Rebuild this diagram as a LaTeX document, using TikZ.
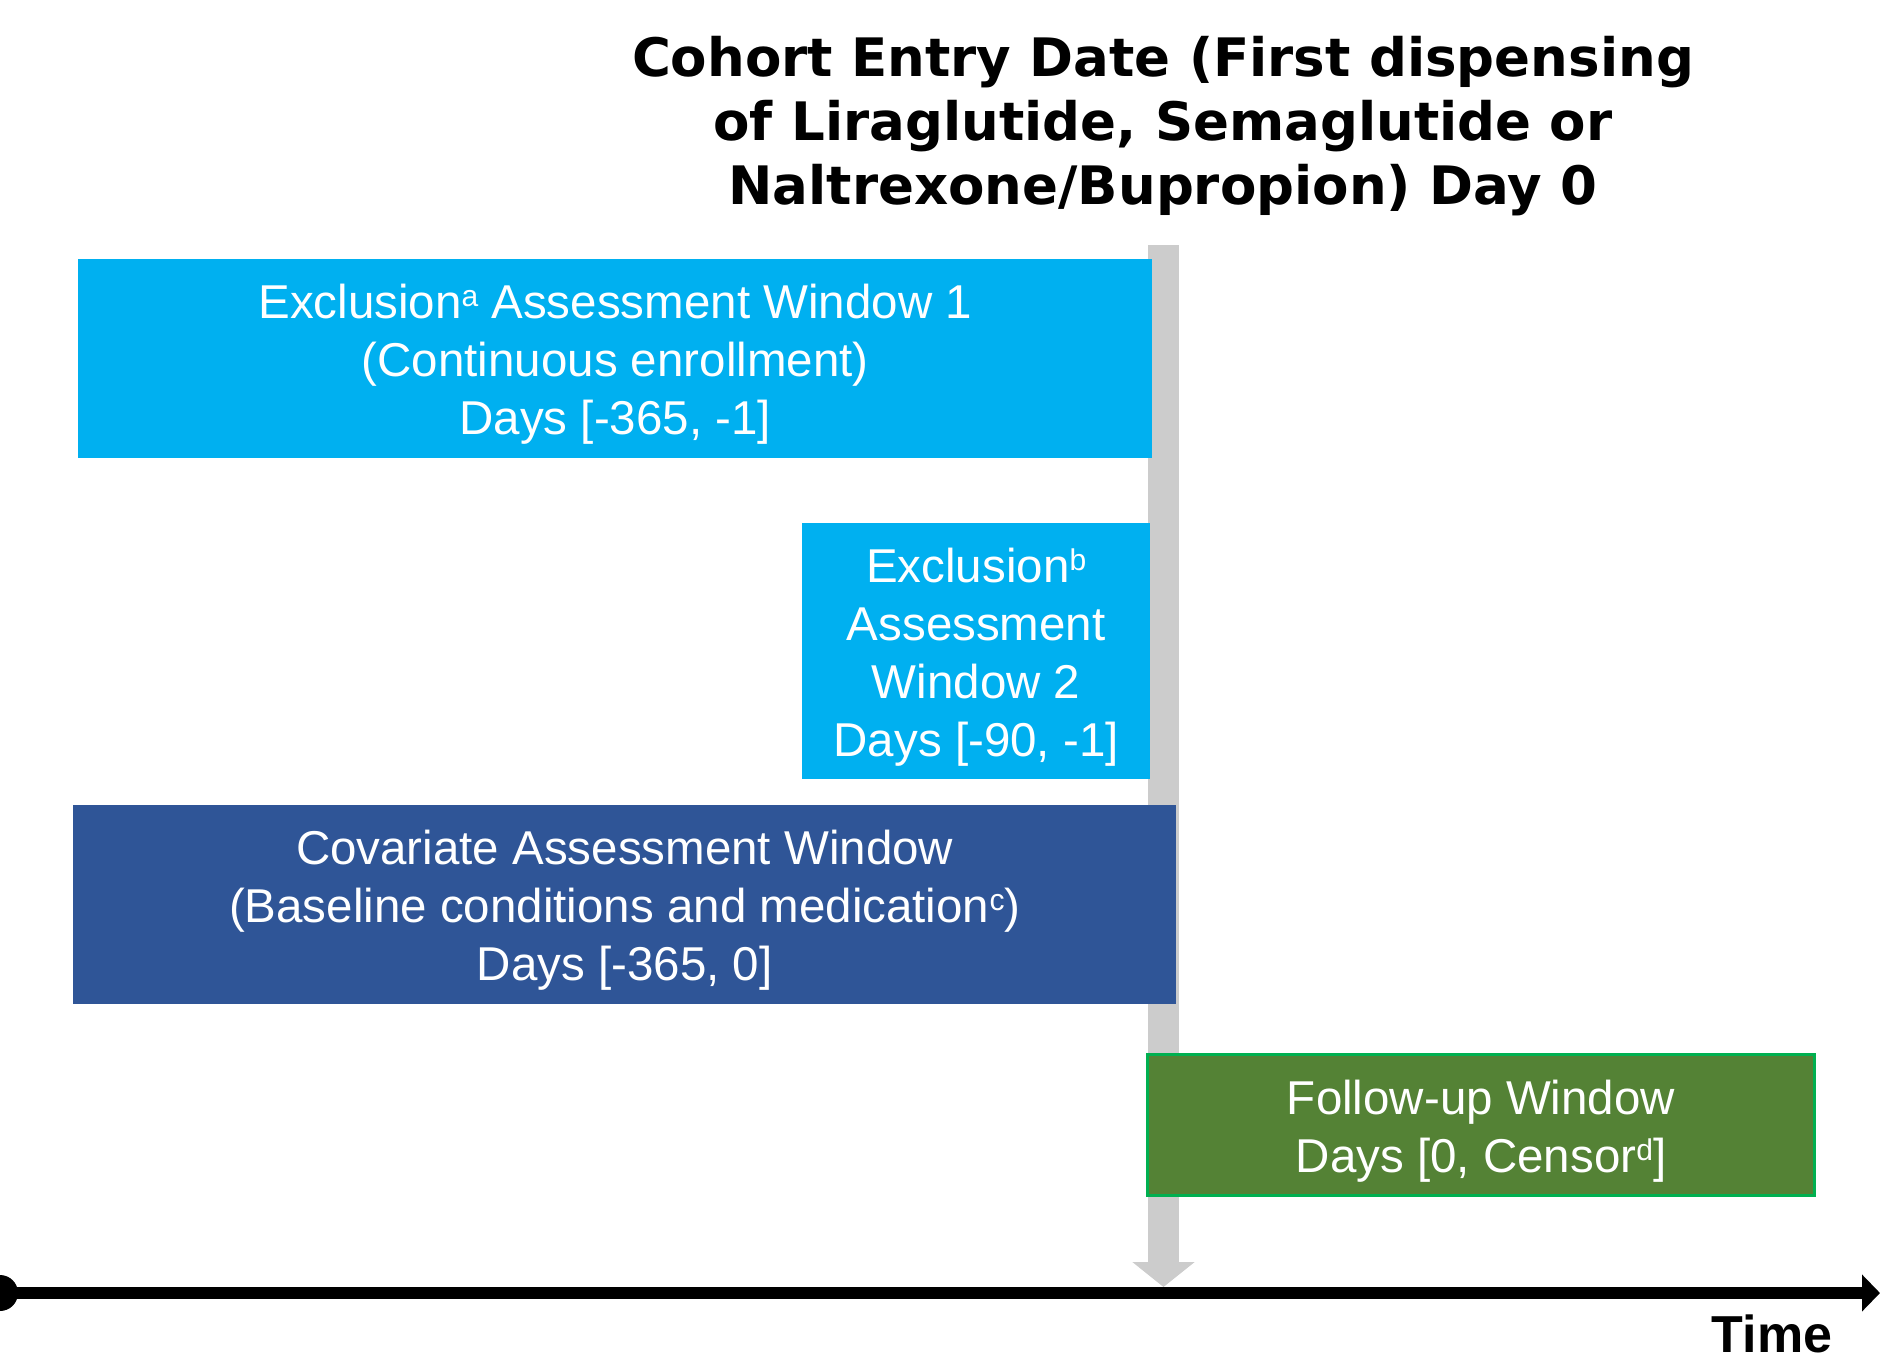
\documentclass[tikz,border=0pt]{standalone}
\usepackage{fontspec}
\setmainfont{Liberation Sans}
\newfontfamily\headfont{DejaVu Sans}
\usetikzlibrary{positioning, arrows.meta}

\definecolor{exclblue}{HTML}{00B0F0}
\definecolor{covblue}{HTML}{2F5597}
\definecolor{fupgreen}{HTML}{548235}
\definecolor{fupedge}{HTML}{00B050}
\definecolor{dayzero}{HTML}{CCCCCC}

% footnote marks inside the windows
\newcommand\supmark[1]{\raisebox{12pt}{\fontsize{30}{30}\selectfont #1}}

\begin{document}
\begin{tikzpicture}[
  x=1pt, y=-1pt,
  font=\fontsize{47.5}{58}\selectfont,
  window/.style={anchor=north west, inner sep=0pt},
  wintext/.style={inner sep=0pt, align=center, text=white},
  head/.style={align=center, inner sep=0pt,
    font=\headfont\bfseries\fontsize{53}{64}\selectfont},
]
  \useasboundingbox (0,0) rectangle (1880,1361);

  % Day 0 marker (behind the windows)
  \coordinate (d0top) at (1163.5,245);
  \coordinate (d0) at (1163.5,1287);
  \draw[dayzero, line width=31pt, -{Triangle[width=61pt, length=25pt]}] (d0top) -- (d0);

  % Title over the day 0 marker
  \node[head] (title) at (1163,126)
    {Cohort Entry Date (First dispensing\\of Liraglutide, Semaglutide or\\Naltrexone/Bupropion) Day 0};

  % Assessment windows
  \node[window, fill=exclblue, minimum width=1074pt, minimum height=199pt] (excl1) at (78,259) {};
  \node[wintext] (excl1txt) at ([yshift=-6pt]excl1.center)
    {Exclusion\supmark{a} Assessment Window 1\\(Continuous enrollment)\\Days [-365, -1]};
  \node[window, fill=exclblue, minimum width=348pt, minimum height=256pt] (excl2) at (802,523) {};
  \node[wintext] (excl2txt) at ([yshift=-6pt]excl2.center)
    {Exclusion\supmark{b}\\Assessment\\Window 2\\Days [-90, -1]};
  \node[window, fill=covblue, minimum width=1103pt, minimum height=199pt] (cov) at (73,805) {};
  \node[wintext] (covtxt) at ([yshift=-6pt]cov.center)
    {Covariate Assessment Window\\(Baseline conditions and medication\supmark{c})\\Days [-365, 0]};
  \node[window, fill=fupgreen, draw=fupedge, line width=3pt,
        minimum width=667pt, minimum height=141pt] (fup) at (1146,1053) {};
  \node[wintext] (fuptxt) at ([yshift=-6pt]fup.center)
    {Follow-up Window\\Days [0, Censor\supmark{d}]};

  % Time axis
  \coordinate (t0) at (0,1293);
  \coordinate (tend) at (1880,1293);
  \draw[line width=12pt, -{Triangle[width=36pt, length=18pt]}] (t0) -- (tend);
  \fill (t0) circle (18pt);
  \node[anchor=base, inner sep=0pt, font=\bfseries\fontsize{52}{60}\selectfont] (time) at (1772,1352) {Time};
\end{tikzpicture}
\end{document}
